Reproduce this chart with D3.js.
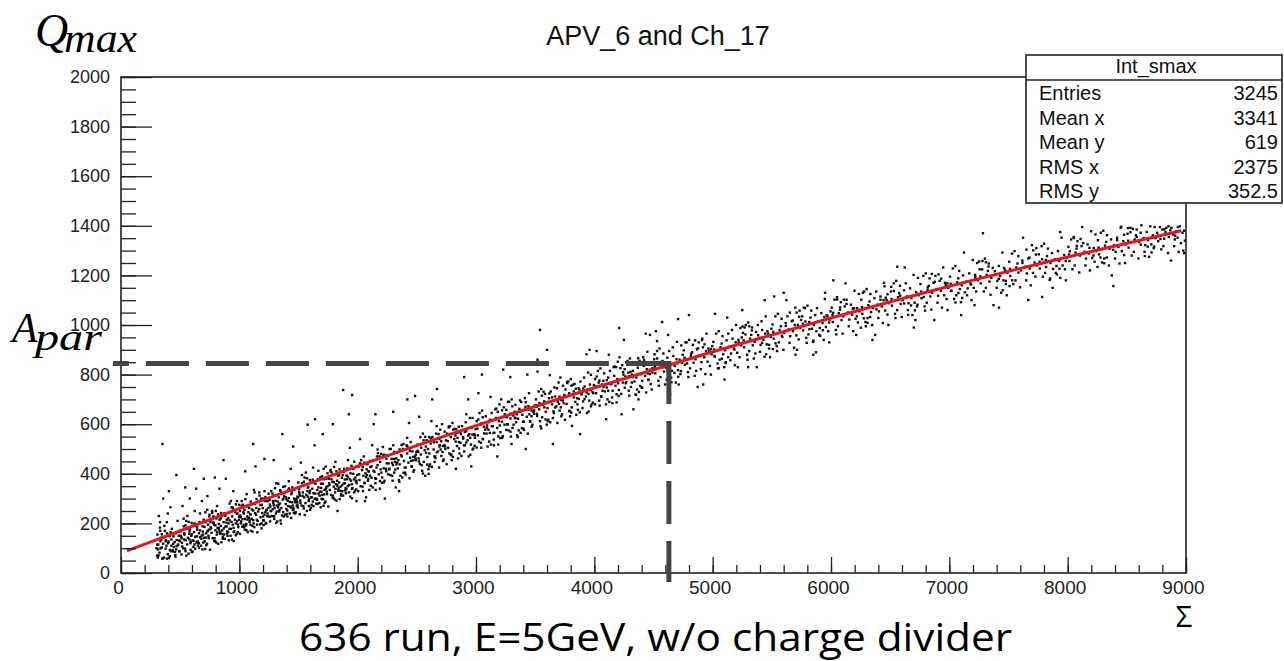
<!DOCTYPE html>
<html lang="en">
<head>
  <meta charset="UTF-8">
  <title>APV_6 and Ch_17</title>
  <script src="https://d3js.org/d3.v7.min.js"></script>
  <style>
    body { margin: 0; background: #fff; }
    svg { display: block; }
    .tick text { font-family: "Liberation Sans", Arial, sans-serif; fill: #222; }
    .tick line { stroke: #222; stroke-width: 1.3; }
  </style>
</head>
<body>
  <svg width="1284" height="661"></svg>
  <script>
    const title = "APV_6 and Ch_17";
    const caption = "636 run, E=5GeV, w/o charge divider";
    const statsTitle = "Int_smax";
    const statNames = ["Entries", "Mean x", "Mean y", "RMS x", "RMS y"];
    const statValues = ["3245", "3341", "619", "2375", "352.5"];
    const xTicks = [0, 1000, 2000, 3000, 4000, 5000, 6000, 7000, 8000, 9000];
    const yTicks = [0, 200, 400, 600, 800, 1000, 1200, 1400, 1600, 1800, 2000];

    // fit curve
    const fitX = [50, 1000, 2000, 3000, 4000, 5000, 6000, 7000, 8000, 8960];
    const fitY = [89, 260, 431, 594, 747, 892, 1028, 1156, 1274, 1380];

    // A_par marker
    const aParX = 4630;
    const aParY = 845;

    // scatter points (sigma, q_max), by range of sigma
    const scatter0to1k = [[312,95],[338,142],[305,70],[356,118],[471,133],[420,88],[389,160],[447,105],[330,205],[402,127],[363,62],[488,150],[315,115],[430,178],[377,98],[459,72],[341,135],[395,240],[482,112],[325,82],[412,148],[366,190],[454,125],[300,100],[437,92],[349,58],[497,170],[384,110],[418,265],[333,128],[466,95],[371,145],[308,155],[441,118],[395,76],[478,210],[357,300],[426,135],[320,230],[492,88],[345,103],[405,330],[463,160],[380,128],[350,520],[468,395],[412,68],[332,170],[498,128],[387,205],
      [512,140],[655,120],[583,175],[720,160],[541,98],[698,215],[605,132],[530,188],[741,140],[668,172],[559,115],[623,250],[707,128],[576,158],[688,95],[515,122],[642,148],[735,195],[598,84],[551,210],[679,138],[617,165],[727,118],[566,142],[506,168],[650,110],[713,245],[589,126],[632,190],[545,88],[694,155],[520,270],[746,175],[611,105],[663,205],[578,135],[701,142],[537,155],[627,98],[684,290],[557,180],[721,112],[594,150],[648,128],[525,100],[668,240],[604,190],[739,150],[571,78],[690,188],[548,132],[636,340],[714,205],[587,120],[659,160],[508,145],[702,125],[621,115],[562,230],[731,168],[676,110],[596,202],[534,160],[644,175],[748,235],[582,300],[616,420],[699,380],[543,345],[730,310],
      [762,180],[905,165],[833,215],[970,200],[791,140],[948,255],[855,172],[780,228],[991,185],[918,212],[809,155],[873,240],[957,168],[826,198],[938,135],[765,162],[892,188],[985,240],[848,124],[801,250],[929,178],[867,205],[977,158],[816,182],[756,205],[900,150],[963,215],[839,166],[882,230],[795,128],[944,195],[770,250],[996,215],[861,145],[913,245],[828,175],[951,182],[787,195],[877,138],[934,265],[807,220],[971,152],[844,190],[898,168],[775,140],[918,280],[854,230],[989,195],[821,118],[940,228],[798,172],[886,380],[964,245],[837,160],[909,200],[758,185],[952,165],[871,155],[812,270],[981,208],[926,150],[846,242],[784,200],[894,215],[998,275],[832,340],[866,455],[949,330],[793,385],[980,290]];

    const scatter1to2k = [[1012,225],[1155,210],[1083,262],[1220,245],[1041,185],[1198,300],[1105,218],[1030,275],[1241,230],[1168,258],[1059,198],[1123,335],[1207,212],[1076,245],[1188,180],[1015,208],[1142,235],[1235,290],[1098,170],[1051,298],[1179,225],[1117,252],[1227,202],[1066,228],[1006,250],[1150,195],[1213,330],[1089,212],[1132,278],[1045,175],[1194,242],[1020,290],[1246,262],[1111,190],[1163,290],[1078,222],[1201,228],[1037,240],[1127,185],[1184,300],[1057,268],[1221,198],[1094,236],[1148,214],[1025,186],[1168,325],[1104,278],[1239,240],[1071,165],[1190,275],[1048,218],[1136,430],[1214,290],[1087,205],[1159,248],[1008,232],[1202,212],[1121,200],[1062,318],[1231,255],[1176,196],[1096,288],[1034,245],[1144,262],[1248,320],[1117,520],[1212,460],[1050,410],
      [1262,268],[1405,252],[1333,305],[1470,290],[1291,228],[1448,345],[1355,262],[1280,320],[1491,275],[1418,302],[1309,240],[1373,300],[1457,255],[1326,288],[1438,222],[1265,250],[1392,278],[1485,270],[1348,212],[1301,342],[1429,268],[1367,296],[1477,245],[1316,272],[1256,295],[1400,238],[1463,300],[1339,255],[1382,322],[1295,218],[1444,285],[1270,330],[1496,305],[1361,232],[1413,335],[1328,265],[1451,272],[1287,282],[1377,228],[1434,420],[1307,312],[1471,240],[1344,280],[1398,258],[1275,230],[1418,370],[1354,322],[1489,285],[1321,208],[1440,318],[1298,262],[1386,350],[1464,335],[1337,248],[1409,292],[1258,276],[1452,255],[1371,245],[1312,362],[1481,298],[1426,240],[1346,332],[1284,290],[1394,305],[1498,365],[1363,560],[1455,510],[1290,455],
      [1512,312],[1655,295],[1583,348],[1720,335],[1541,270],[1698,390],[1605,305],[1530,362],[1741,318],[1668,345],[1559,282],[1623,425],[1707,298],[1576,330],[1688,265],[1515,292],[1642,320],[1735,380],[1598,255],[1551,385],[1679,312],[1617,340],[1727,288],[1566,315],[1506,338],[1650,280],[1713,420],[1589,298],[1632,365],[1545,260],[1694,328],[1520,445],[1746,350],[1611,275],[1663,378],[1578,308],[1701,315],[1537,325],[1627,270],[1684,385],[1557,355],[1721,282],[1594,322],[1648,300],[1525,272],[1668,412],[1604,365],[1739,328],[1571,250],[1690,360],[1548,305],[1636,515],[1714,378],[1587,290],[1659,335],[1508,318],[1702,298],[1621,288],[1562,405],[1731,340],[1676,282],[1596,375],[1577,598],[1705,560],[1640,620],
      [1762,355],[1905,338],[1833,392],[1970,378],[1791,312],[1948,432],[1855,348],[1780,405],[1991,362],[1918,388],[1809,325],[1873,395],[1957,342],[1826,372],[1938,308],[1765,335],[1892,362],[1985,370],[1848,298],[1801,428],[1929,355],[1867,384],[1977,332],[1816,358],[1756,380],[1900,322],[1963,400],[1839,342],[1882,408],[1795,302],[1944,372],[1770,410],[1996,395],[1861,318],[1913,422],[1828,352],[1951,358],[1787,368],[1877,312],[1934,505],[1807,398],[1971,325],[1844,365],[1898,342],[1775,315],[1918,455],[1854,408],[1989,372],[1821,292],[1940,402],[1798,348],[1886,420],[1964,420],[1837,332],[1909,378],[1758,362],[1952,340],[1871,330],[1812,448],[1981,385],[1926,325],[1846,418],[1877,738],[1953,718],[1790,600],[1925,640],[1830,250],[1990,290]];

    const scatter2to3k = [[2012,398],[2155,380],[2083,438],[2220,422],[2041,348],[2198,480],[2105,392],[2030,455],[2241,410],[2168,435],[2059,362],[2123,515],[2207,385],[2076,418],[2188,340],[2015,375],[2142,408],[2235,475],[2098,335],[2051,470],[2179,398],[2117,430],[2227,372],[2066,402],[2006,428],[2150,362],[2213,508],[2089,380],[2132,455],[2045,330],[2194,418],[2020,540],[2246,442],[2111,352],[2163,470],[2078,395],[2201,405],[2037,415],[2127,345],[2184,470],[2057,445],[2221,365],[2094,410],[2148,382],[2025,350],[2168,498],[2104,452],[2239,420],[2071,305],[2190,448],[2048,392],[2136,600],[2214,470],[2087,372],[2159,425],[2150,640],[2230,300],[2062,290],
      [2262,442],[2405,425],[2333,485],[2470,468],[2291,392],[2448,528],[2355,438],[2280,500],[2491,455],[2418,482],[2309,405],[2373,470],[2457,428],[2326,462],[2438,382],[2265,418],[2392,452],[2485,470],[2348,375],[2301,515],[2429,445],[2367,475],[2477,415],[2316,448],[2256,472],[2400,405],[2463,490],[2339,422],[2382,500],[2295,372],[2444,465],[2270,500],[2496,488],[2361,392],[2413,515],[2328,438],[2451,452],[2287,460],[2377,385],[2434,605],[2307,488],[2471,408],[2344,455],[2398,425],[2275,395],[2418,545],[2354,498],[2489,462],[2321,345],[2440,492],[2298,435],[2386,520],[2300,650],[2485,714],[2420,700],[2350,330],
      [2512,488],[2655,470],[2583,535],[2720,512],[2541,435],[2698,578],[2605,482],[2530,548],[2741,500],[2668,528],[2559,448],[2623,612],[2707,472],[2576,510],[2688,425],[2515,462],[2642,498],[2735,570],[2598,418],[2551,562],[2679,490],[2617,522],[2727,458],[2566,495],[2506,518],[2650,448],[2713,600],[2589,468],[2632,548],[2545,412],[2694,515],[2520,630],[2746,535],[2611,438],[2663,562],[2578,485],[2701,498],[2537,505],[2627,428],[2684,560],[2557,535],[2721,452],[2594,500],[2648,470],[2525,440],[2668,592],[2604,548],[2739,510],[2571,392],[2690,540],[2671,742],[2600,400],[2630,700],
      [2762,532],[2905,515],[2833,580],[2970,558],[2791,478],[2948,625],[2855,528],[2780,592],[2991,545],[2918,572],[2809,492],[2873,560],[2957,518],[2826,555],[2938,470],[2765,505],[2892,542],[2985,560],[2848,462],[2801,605],[2929,535],[2867,568],[2977,502],[2816,540],[2756,562],[2900,490],[2963,585],[2839,512],[2882,592],[2795,455],[2944,560],[2770,590],[2996,580],[2861,482],[2913,608],[2828,530],[2951,545],[2787,548],[2877,472],[2934,700],[2807,578],[2971,498],[2844,545],[2898,515],[2775,482],[2918,640],[2854,590],[2989,555],[2900,790],[2830,420],[2960,430]];

    const scatter3to4k = [[3012,582],[3155,565],[3083,632],[3220,610],[3041,525],[3198,680],[3105,578],[3030,645],[3241,598],[3168,625],[3059,540],[3123,710],[3207,568],[3076,605],[3188,518],[3015,555],[3142,592],[3235,668],[3098,510],[3051,655],[3179,585],[3117,618],[3227,552],[3066,590],[3006,612],[3150,538],[3213,700],[3089,562],[3132,645],[3045,505],[3194,612],[3020,725],[3246,630],[3111,530],[3163,660],[3078,578],[3201,595],[3037,598],[3127,518],[3184,650],[3057,628],[3221,545],[3094,595],[3148,565],[3025,530],[3050,800],[3230,820],[3180,470],
      [3262,628],[3405,610],[3333,678],[3470,655],[3291,570],[3448,725],[3355,622],[3280,690],[3491,642],[3418,670],[3309,585],[3373,650],[3457,612],[3326,650],[3438,562],[3265,600],[3392,638],[3485,650],[3348,555],[3301,700],[3429,630],[3367,662],[3477,598],[3316,635],[3256,658],[3400,582],[3463,665],[3339,608],[3382,690],[3295,550],[3444,658],[3270,690],[3496,675],[3361,575],[3413,705],[3328,625],[3451,640],[3287,642],[3377,565],[3434,800],[3307,672],[3471,590],[3344,640],[3398,610],[3275,575],[3290,790],[3300,520],[3420,500],[3470,850],
      [3512,670],[3655,652],[3583,722],[3720,698],[3541,612],[3698,768],[3605,665],[3530,732],[3741,685],[3668,712],[3559,628],[3623,798],[3707,655],[3576,692],[3688,605],[3515,642],[3642,680],[3735,755],[3598,598],[3551,742],[3679,672],[3617,705],[3727,640],[3566,678],[3506,700],[3650,625],[3713,788],[3589,650],[3632,732],[3545,592],[3694,700],[3520,812],[3746,718],[3611,618],[3663,748],[3578,668],[3701,682],[3537,685],[3627,608],[3684,745],[3557,715],[3721,632],[3540,980],[3520,860],[3650,520],[3600,900],
      [3762,710],[3905,692],[3833,762],[3970,738],[3791,652],[3948,808],[3855,705],[3780,772],[3991,725],[3918,752],[3809,668],[3873,740],[3957,695],[3826,732],[3938,645],[3765,682],[3892,720],[3985,730],[3848,638],[3801,782],[3929,712],[3867,745],[3977,680],[3816,718],[3756,740],[3900,665],[3963,760],[3839,690],[3882,772],[3795,632],[3944,740],[3770,770],[3996,758],[3861,658],[3913,788],[3828,708],[3951,722],[3787,725],[3877,648],[3934,882],[3807,755],[3971,672],[3960,900],[3812,593],[3880,560]];

    const scatter4to5k = [[4012,752],[4155,735],[4083,805],[4220,780],[4041,695],[4198,852],[4105,748],[4030,815],[4241,768],[4168,795],[4059,710],[4123,880],[4207,738],[4076,775],[4188,688],[4015,725],[4142,762],[4235,838],[4098,680],[4051,825],[4179,755],[4117,788],[4227,722],[4066,760],[4006,782],[4150,708],[4213,870],[4089,732],[4132,815],[4045,675],[4194,782],[4020,895],[4246,800],[4111,700],[4163,830],[4078,750],[4201,765],[4037,768],[4127,690],[4184,830],[4210,988],[4100,620],[4230,640],
      [4262,792],[4405,775],[4333,845],[4470,820],[4291,735],[4448,892],[4355,788],[4280,855],[4491,808],[4418,835],[4309,750],[4373,700],[4457,778],[4326,815],[4438,728],[4265,765],[4392,802],[4485,740],[4348,720],[4301,865],[4429,795],[4367,828],[4477,762],[4316,800],[4256,822],[4400,748],[4463,840],[4339,772],[4382,855],[4295,715],[4444,822],[4270,850],[4496,840],[4361,740],[4413,870],[4328,790],[4451,805],[4287,808],[4377,730],[4434,965],[4250,940],[4470,960],[4330,660],
      [4512,832],[4655,815],[4583,885],[4720,860],[4541,775],[4698,932],[4605,828],[4530,895],[4741,848],[4668,875],[4559,790],[4623,960],[4707,818],[4576,855],[4688,768],[4515,805],[4642,842],[4735,918],[4598,760],[4551,905],[4679,835],[4617,868],[4727,802],[4566,840],[4506,862],[4650,788],[4713,760],[4589,812],[4632,895],[4545,755],[4694,862],[4520,975],[4746,880],[4611,780],[4663,910],[4578,830],[4701,845],[4537,848],[4573,1012],[4530,935],[4708,1024],[4640,720],
      [4762,868],[4905,850],[4833,920],[4970,895],[4791,810],[4948,965],[4855,862],[4780,930],[4991,882],[4918,910],[4809,825],[4873,750],[4957,852],[4826,890],[4938,802],[4765,840],[4892,875],[4985,800],[4848,795],[4801,940],[4929,870],[4867,902],[4977,835],[4816,875],[4756,898],[4900,822],[4963,905],[4839,848],[4882,930],[4795,790],[4944,895],[4770,930],[4996,915],[4861,815],[4913,945],[4828,866],[4920,760],[4800,1040]];

    const scatter5to6k = [[5012,902],[5155,885],[5083,955],[5220,930],[5041,845],[5198,1000],[5105,898],[5030,965],[5241,918],[5168,945],[5059,860],[5123,1030],[5207,888],[5076,925],[5188,838],[5015,875],[5142,912],[5235,988],[5098,830],[5051,975],[5179,905],[5117,938],[5227,870],[5066,910],[5006,932],[5150,858],[5213,830],[5089,882],[5132,965],[5045,825],[5194,930],[5020,1045],[5246,950],[5111,850],[5163,980],[5250,1060],[5100,780],
      [5262,938],[5405,920],[5333,990],[5470,965],[5291,880],[5448,1035],[5355,932],[5280,1000],[5491,952],[5418,980],[5309,895],[5373,830],[5457,922],[5326,960],[5438,872],[5265,910],[5392,948],[5485,870],[5348,865],[5301,1010],[5429,940],[5367,972],[5477,905],[5316,945],[5256,968],[5400,892],[5463,975],[5339,918],[5382,1000],[5295,860],[5444,965],[5270,990],[5496,985],[5361,885],[5413,1015],[5300,830],[5440,1100],
      [5512,972],[5655,955],[5583,1025],[5720,1000],[5541,915],[5698,1070],[5605,968],[5530,1035],[5741,988],[5668,1015],[5559,930],[5623,1100],[5707,958],[5576,995],[5688,908],[5515,945],[5642,982],[5735,1058],[5598,900],[5551,1045],[5679,975],[5617,1008],[5727,942],[5566,980],[5506,1002],[5650,928],[5713,900],[5589,952],[5632,1035],[5545,895],[5694,1000],[5520,1115],[5746,1020],[5700,880],[5600,1130],
      [5762,1005],[5905,988],[5833,1058],[5970,1035],[5791,948],[5948,1105],[5855,1000],[5780,1068],[5991,1022],[5918,1048],[5809,962],[5873,890],[5957,992],[5826,1030],[5938,940],[5765,978],[5892,1015],[5985,930],[5848,932],[5801,1078],[5929,1008],[5867,1040],[5977,975],[5816,1012],[5756,1035],[5900,960],[5963,1040],[5839,985],[5882,1068],[5795,928],[5944,1032],[5770,1070],[5996,1055],[5950,1130],[5850,880]];

    const scatter6to7k = [[6012,1040],[6155,1022],[6083,1092],[6220,1068],[6041,980],[6198,1138],[6105,1035],[6030,1102],[6241,1055],[6168,1082],[6059,995],[6123,1168],[6207,1025],[6076,1062],[6188,975],[6015,1012],[6142,1050],[6235,1125],[6098,965],[6051,1112],[6179,1042],[6117,1075],[6227,1010],[6066,1048],[6006,1070],[6150,995],[6213,960],[6089,1020],[6132,1102],[6045,962],[6194,1068],[6020,1180],
      [6262,1072],[6405,1055],[6333,1125],[6470,1100],[6291,1012],[6448,1170],[6355,1068],[6280,1135],[6491,1088],[6418,1115],[6309,1028],[6373,960],[6457,1058],[6326,1095],[6438,1008],[6265,1045],[6392,1082],[6485,1000],[6348,1000],[6301,1145],[6429,1075],[6367,1108],[6477,1042],[6316,1080],[6256,1102],[6400,1028],[6463,1110],[6339,1052],[6382,1135],[6295,995],[6444,1100],[6270,1130],[6350,940],
      [6512,1105],[6655,1088],[6583,1158],[6720,1132],[6541,1045],[6698,1202],[6605,1100],[6530,1168],[6741,1120],[6668,1148],[6559,1060],[6623,1232],[6707,1090],[6576,1128],[6688,1040],[6515,1078],[6642,1115],[6735,1190],[6598,1032],[6551,1178],[6679,1108],[6617,1140],[6727,1075],[6566,1112],[6506,1135],[6650,1060],[6713,1020],[6589,1085],[6632,1168],[6545,1028],[6560,1235],[6700,990],
      [6762,1135],[6905,1118],[6833,1188],[6970,1162],[6791,1075],[6948,1232],[6855,1130],[6780,1198],[6991,1150],[6918,1178],[6809,1090],[6873,1020],[6957,1120],[6826,1158],[6938,1070],[6765,1108],[6892,1145],[6985,1060],[6848,1062],[6801,1208],[6929,1138],[6867,1170],[6977,1105],[6816,1142],[6756,1165],[6900,1090],[6963,1170],[6839,1115],[6882,1198],[6795,1058]];

    const scatter7to9k = [[7012,1166],[7155,1148],[7083,1218],[7220,1192],[7041,1105],[7198,1262],[7105,1160],[7030,1228],[7241,1180],[7168,1208],[7059,1120],[7123,1292],[7207,1150],[7076,1188],[7188,1100],[7015,1138],[7142,1175],[7235,1250],[7098,1092],[7051,1238],[7179,1168],[7117,1200],[7227,1135],[7066,1172],[7006,1195],[7150,1120],[7213,1080],[7089,1145],[7100,1040],
      [7262,1196],[7405,1178],[7333,1248],[7470,1222],[7291,1135],[7448,1292],[7355,1190],[7280,1258],[7491,1210],[7418,1238],[7309,1150],[7373,1080],[7457,1180],[7326,1218],[7438,1130],[7265,1168],[7392,1205],[7485,1120],[7348,1122],[7301,1268],[7429,1198],[7367,1230],[7477,1165],[7316,1202],[7256,1225],[7400,1150],[7463,1230],[7339,1175],[7284,1370],[7420,1070],
      [7512,1226],[7655,1208],[7583,1278],[7720,1252],[7541,1165],[7698,1322],[7605,1220],[7530,1288],[7741,1240],[7668,1268],[7559,1180],[7623,1352],[7707,1210],[7576,1248],[7688,1160],[7515,1198],[7642,1235],[7735,1310],[7598,1152],[7551,1298],[7679,1228],[7617,1260],[7727,1195],[7566,1232],[7506,1255],[7650,1180],[7667,1101],
      [7762,1255],[7905,1238],[7833,1308],[7970,1282],[7791,1195],[7948,1352],[7855,1250],[7780,1318],[7991,1270],[7918,1298],[7809,1210],[7873,1150],[7957,1240],[7826,1278],[7938,1190],[7765,1228],[7892,1265],[7985,1180],[7848,1182],[7801,1328],[7929,1258],[7867,1290],[7977,1225],[7816,1262],[7756,1285],[7900,1210],[7785,1113],[7937,1375],
      [8012,1284],[8155,1268],[8083,1338],[8220,1310],[8041,1225],[8198,1378],[8105,1280],[8030,1345],[8241,1298],[8168,1325],[8059,1240],[8123,1395],[8207,1270],[8076,1308],[8188,1220],[8015,1258],[8142,1295],[8235,1365],[8098,1212],[8051,1355],[8179,1288],[8117,1318],[8227,1255],[8066,1292],[8006,1315],[8150,1240],
      [8262,1312],[8405,1295],[8333,1362],[8470,1338],[8291,1252],[8448,1392],[8355,1308],[8280,1372],[8491,1325],[8418,1352],[8309,1268],[8373,1200],[8457,1298],[8326,1335],[8438,1248],[8265,1285],[8392,1322],[8485,1250],[8348,1240],[8301,1380],[8429,1315],[8367,1345],[8477,1282],[8316,1320],[8256,1342],[8400,1268],[8386,1157],
      [8512,1340],[8655,1322],[8583,1385],[8720,1362],[8541,1280],[8698,1398],[8605,1335],[8530,1392],[8741,1350],[8668,1375],[8559,1295],[8623,1402],[8707,1325],[8576,1362],[8688,1275],[8515,1312],[8642,1350],[8735,1395],[8598,1268],[8551,1388],[8679,1342],[8617,1372],[8727,1310],[8566,1345],[8506,1368],[8650,1295],
      [8762,1360],[8905,1345],[8833,1392],[8970,1372],[8791,1305],[8948,1398],[8855,1355],[8780,1395],[8991,1340],[8918,1378],[8809,1318],[8873,1260],[8957,1330],[8826,1375],[8938,1295],[8765,1338],[8892,1365],[8985,1290],[8848,1290],[8801,1385],[8929,1352],[8867,1382],[8977,1300],[8816,1348],[8756,1372],[8900,1318]];

    // extra points in the dense parts of the band
    const scatterDenseLow = [[317,71],[443,148],[388,58],[491,131],[352,58],[420,164],[306,114],[469,108],[371,170],[405,60],[334,99],[457,85],
      [398,120],[311,62],[482,115],[363,144],[437,87],[329,183],[460,66],[379,132],[413,93],[345,156],[495,87],[426,110],
      [517,107],[643,184],[588,94],[691,167],[552,70],[620,200],[506,150],[669,144],[571,206],[605,87],[534,135],[657,121],
      [598,156],[511,75],[682,151],[563,180],[637,123],[529,219],[660,102],[579,168],[613,129],[545,192],[695,123],[626,146],
      [717,143],[843,220],[788,130],[891,203],[752,94],[820,236],[706,186],[869,180],[771,242],[805,123],[734,171],[857,157],
      [798,192],[711,97],[882,187],[763,216],[837,159],[729,255],[860,138],[779,204],[813,165],[745,228],[895,159],[826,182],
      [917,178],[1043,255],[988,165],[1091,238],[952,129],[1020,271],[906,221],[1069,215],[971,277],[1005,158],[934,206],[1057,192],
      [998,227],[911,132],[1082,222],[963,251],[1037,194],[929,290],[1060,173],[979,239],[1013,200],[945,263],[1095,194],[1026,217],
      [1117,213],[1243,290],[1188,200],[1291,273],[1152,164],[1220,306],[1106,256],[1269,250],[1171,312],[1205,193],[1134,241],[1257,227],
      [1198,262],[1111,167],[1282,257],[1163,286],[1237,229],[1129,325],[1260,208],[1179,274],[1213,235],[1145,298],[1295,229],[1226,252],
      [1317,248],[1443,325],[1388,235],[1491,308],[1352,199],[1420,341],[1306,291],[1469,285],[1371,347],[1405,228],[1334,276],[1457,262],
      [1398,297],[1311,202],[1482,292],[1363,321],[1437,264],[1329,360],[1460,243],[1379,309],[1413,270],[1345,333],[1495,264],[1426,287],
      [1517,283],[1643,360],[1588,270],[1691,343],[1552,234],[1620,376],[1506,326],[1669,320],[1571,382],[1605,263],[1534,311],[1657,297],
      [1598,332],[1511,237],[1682,327],[1563,356],[1637,299],[1529,395],[1660,278],[1579,344],[1613,305],[1545,368],[1695,299],[1626,322],
      [1717,317],[1843,394],[1788,304],[1891,377],[1752,268],[1820,410],[1706,360],[1869,354],[1771,416],[1805,297],[1734,345],[1857,331],
      [1798,366],[1711,271],[1882,361],[1763,390],[1837,333],[1729,429],[1860,312],[1779,378],[1813,339],[1745,402],[1895,333],[1826,356]];

    const scatterDenseMid = [[1917,350],[2043,427],[1988,337],[2091,410],[1952,301],[2020,443],[1906,393],[2069,387],[1971,449],[2005,330],[1934,378],[2057,364],
      [2117,384],[2243,461],[2188,371],[2291,444],[2152,335],[2220,477],[2106,427],[2269,421],[2171,483],[2205,364],[2134,412],[2257,398],
      [2317,417],[2443,494],[2388,404],[2491,477],[2352,368],[2420,510],[2306,460],[2469,454],[2371,516],[2405,397],[2334,445],[2457,431],
      [2517,450],[2643,527],[2588,437],[2691,510],[2552,401],[2620,543],[2506,493],[2669,487],[2571,549],[2605,430],[2534,478],[2657,464],
      [2717,488],[2843,565],[2788,475],[2891,548],[2752,439],[2820,581],[2706,531],[2869,525],[2771,587],[2805,468],[2734,516],[2857,502],
      [2917,526],[3043,603],[2988,513],[3091,586],[2952,477],[3020,619],[2906,569],[3069,563],[2971,625],[3005,506],[2934,554],[3057,540],
      [3117,565],[3243,640],[3188,551],[3291,623],[3152,515],[3220,656],[3106,608],[3269,599],[3171,663],[3205,544],[3134,592],[3257,577],
      [3317,598],[3443,673],[3388,584],[3491,656],[3352,548],[3420,689],[3306,641],[3469,632],[3371,696],[3405,577],[3334,625],[3457,610],
      [3517,633],[3643,708],[3588,619],[3691,691],[3552,583],[3620,724],[3506,676],[3669,667],[3571,731],[3605,612],[3534,660],[3657,645],
      [3717,668],[3843,743],[3788,654],[3891,726],[3752,618],[3820,759],[3706,711],[3869,702],[3771,766],[3805,647],[3734,695],[3857,680],
      [3917,701],[4043,776],[3988,687],[4091,759],[3952,651],[4020,792],[3906,744],[4069,735],[3971,799],[4005,680],[3934,728],[4057,713],
      [4117,735],[4243,810],[4188,721],[4291,793],[4152,685],[4220,826],[4106,778],[4269,769],[4171,833],[4205,714],[4134,762],[4257,747],
      [4317,768],[4443,843],[4388,754],[4491,826],[4352,718],[4420,859],[4306,811],[4469,802],[4371,866],[4405,747],[4334,795],[4457,780]];

    const scatterDenseHigh = [[4531,865],[4652,769],[4584,846],[4677,807],[4509,882],[4618,815],
      [4731,814],[4852,938],[4784,845],[4877,906],[4709,791],[4818,884],
      [4931,922],[5052,826],[4984,903],[5077,864],[4909,939],[5018,872],
      [5131,870],[5252,994],[5184,901],[5277,962],[5109,847],[5218,940],
      [5331,978],[5452,882],[5384,959],[5477,920],[5309,995],[5418,928],
      [5531,926],[5652,1050],[5584,957],[5677,1018],[5509,903],[5618,996],
      [5731,1033],[5852,937],[5784,1014],[5877,975],[5709,1050],[5818,983],
      [5931,979],[6052,1103],[5984,1010],[6077,1071],[5909,956],[6018,1049],
      [6131,1085],[6252,989],[6184,1066],[6277,1027],[6109,1102],[6218,1035],
      [6331,1032],[6452,1156],[6384,1063],[6477,1124],[6309,1009],[6418,1102],
      [6531,1137],[6652,1041],[6584,1118],[6677,1079],[6509,1154],[6618,1087],
      [6731,1082],[6852,1206],[6784,1113],[6877,1174],[6709,1059],[6818,1152],
      [6931,1187],[7052,1091],[6984,1168],[7077,1129],[6909,1204],[7018,1137],
      [7131,1132],[7252,1256],[7184,1163],[7277,1224],[7109,1109],[7218,1202],
      [7331,1236],[7452,1140],[7384,1217],[7477,1178],[7309,1253],[7418,1186],
      [7531,1180],[7652,1304],[7584,1211],[7677,1272],[7509,1157],[7618,1250],
      [7731,1284],[7852,1188],[7784,1265],[7877,1226],[7709,1301],[7818,1234],
      [7931,1227],[8052,1351],[7984,1258],[8077,1319],[7909,1204],[8018,1297],
      [8131,1330],[8252,1234],[8184,1311],[8277,1272],[8109,1347],[8218,1280],
      [8331,1272],[8452,1396],[8384,1303],[8477,1364],[8309,1249],[8418,1342],
      [8531,1374],[8652,1278],[8584,1355],[8677,1316],[8509,1391],[8618,1324],
      [8731,1316],[8852,1398],[8784,1347],[8877,1392],[8709,1293],[8818,1386],
      [8931,1395],[8984,1380],[8909,1360]];

    const svg = d3.select("svg");
    const plotLeft = 121, plotRight = 1186, plotTop = 77, plotBottom = 573;

    const x = d3.scaleLinear().domain([0, 9000]).range([plotLeft, plotRight]);
    const y = d3.scaleLinear().domain([0, 2000]).range([plotBottom, plotTop]);

    // points
    const points = scatter0to1k.concat(scatter1to2k, scatter2to3k, scatter3to4k, scatter4to5k,
      scatter5to6k, scatter6to7k, scatter7to9k, scatterDenseLow, scatterDenseMid, scatterDenseHigh);
    svg.append("g")
      .selectAll("rect")
      .data(points)
      .join("rect")
      .attr("x", d => x(d[0]) - 1.2)
      .attr("y", d => y(d[1]) - 1.2)
      .attr("width", 2.4)
      .attr("height", 2.4)
      .attr("fill", "#111");

    // fit
    const fitLine = d3.line()
      .x(d => x(d[0]))
      .y(d => y(d[1]))
      .curve(d3.curveMonotoneX);
    svg.append("path")
      .datum(fitX.map((v, i) => [v, fitY[i]]))
      .attr("d", fitLine)
      .attr("fill", "none")
      .attr("stroke", "#e8141c")
      .attr("stroke-width", 3);

    // minor ticks
    svg.append("g")
      .attr("transform", `translate(${plotLeft},0)`)
      .call(d3.axisLeft(y).tickValues(d3.range(0, 2001, 50)).tickSize(-15).tickFormat(""))
      .call(g => g.select(".domain").remove());
    svg.append("g")
      .attr("transform", `translate(0,${plotBottom})`)
      .call(d3.axisBottom(x).tickValues(d3.range(0, 9001, 200)).tickSize(-8).tickFormat(""))
      .call(g => g.select(".domain").remove());

    // major ticks with labels
    const yAxis = svg.append("g")
      .attr("transform", `translate(${plotLeft},0)`)
      .call(d3.axisLeft(y).tickValues(yTicks).tickSize(-31).tickSizeOuter(0).tickPadding(11).tickFormat(d3.format("d")));
    yAxis.select(".domain").remove();
    yAxis.selectAll("text").attr("font-size", 18);

    const xAxis = svg.append("g")
      .attr("transform", `translate(0,${plotBottom})`)
      .call(d3.axisBottom(x).tickValues(xTicks).tickSize(-16).tickSizeOuter(0).tickPadding(8).tickFormat(d3.format("d")));
    xAxis.select(".domain").remove();
    xAxis.selectAll("text").attr("font-size", 19).attr("dx", -3);

    // frame
    svg.append("rect")
      .attr("x", plotLeft).attr("y", plotTop)
      .attr("width", plotRight - plotLeft).attr("height", plotBottom - plotTop)
      .attr("fill", "none")
      .attr("stroke", "#222")
      .attr("stroke-width", 1.6);

    // title
    svg.append("text")
      .attr("x", 658).attr("y", 45)
      .attr("text-anchor", "middle")
      .attr("font-family", "Liberation Sans, Arial, sans-serif")
      .attr("font-size", 27)
      .attr("fill", "#111")
      .text(title);

    // stats box
    const box = { x: 1026, y: 55, w: 256, h: 148, head: 25 };
    svg.append("rect")
      .attr("x", box.x).attr("y", box.y)
      .attr("width", box.w).attr("height", box.h)
      .attr("fill", "#fff")
      .attr("stroke", "#222")
      .attr("stroke-width", 1.6);
    svg.append("line")
      .attr("x1", box.x).attr("x2", box.x + box.w)
      .attr("y1", box.y + box.head).attr("y2", box.y + box.head)
      .attr("stroke", "#222")
      .attr("stroke-width", 1.4);
    svg.append("text")
      .attr("x", box.x + box.w / 2 + 2).attr("y", 73)
      .attr("text-anchor", "middle")
      .attr("font-family", "Liberation Sans, Arial, sans-serif")
      .attr("font-size", 20)
      .attr("fill", "#111")
      .text(statsTitle);
    const rows = svg.append("g")
      .attr("font-family", "Liberation Sans, Arial, sans-serif")
      .attr("font-size", 20)
      .attr("fill", "#111");
    rows.selectAll("text.name")
      .data(statNames)
      .join("text")
      .attr("class", "name")
      .attr("x", 1039)
      .attr("y", (d, i) => 100 + i * 24.5)
      .text(d => d);
    rows.selectAll("text.val")
      .data(statValues)
      .join("text")
      .attr("class", "val")
      .attr("x", 1278)
      .attr("y", (d, i) => 100 + i * 24.5)
      .attr("text-anchor", "end")
      .text(d => d);

    // dashed A_par guide
    const px = x(aParX), py = y(aParY);
    svg.append("path")
      .attr("d", `M${px},${py}H113`)
      .attr("stroke", "#444")
      .attr("stroke-width", 5)
      .attr("stroke-dasharray", "43,17")
      .attr("fill", "none");
    svg.append("path")
      .attr("d", `M${px},${py - 2.5}V582`)
      .attr("stroke", "#444")
      .attr("stroke-width", 5)
      .attr("stroke-dasharray", "43,17")
      .attr("fill", "none");

    // math labels
    const serif = "Liberation Serif, 'Times New Roman', serif";
    svg.append("text")
      .attr("x", 35).attr("y", 46)
      .attr("font-family", serif).attr("font-style", "italic")
      .attr("font-size", 46).attr("fill", "#000")
      .text("Q");
    svg.append("text")
      .attr("x", 64).attr("y", 52)
      .attr("font-family", serif).attr("font-style", "italic")
      .attr("font-size", 40).attr("fill", "#000")
      .attr("textLength", 73).attr("lengthAdjust", "spacingAndGlyphs")
      .text("max");
    svg.append("text")
      .attr("x", 12).attr("y", 342)
      .attr("font-family", serif).attr("font-style", "italic")
      .attr("font-size", 42).attr("fill", "#000")
      .text("A");
    svg.append("text")
      .attr("x", 35).attr("y", 350)
      .attr("font-family", serif).attr("font-style", "italic")
      .attr("font-size", 38).attr("fill", "#000")
      .attr("textLength", 67).attr("lengthAdjust", "spacingAndGlyphs")
      .text("par");

    // axis name and caption
    svg.append("text")
      .attr("x", 1184).attr("y", 627)
      .attr("text-anchor", "middle")
      .attr("font-family", "Open Sans, Noto Sans, sans-serif")
      .attr("font-size", 29).attr("fill", "#000")
      .text("Σ");
    svg.append("text")
      .attr("x", 299).attr("y", 651)
      .attr("font-family", "Open Sans, Noto Sans, sans-serif")
      .attr("font-size", 38).attr("fill", "#000")
      .attr("textLength", 713).attr("lengthAdjust", "spacingAndGlyphs")
      .text(caption);
  </script>
</body>
</html>
